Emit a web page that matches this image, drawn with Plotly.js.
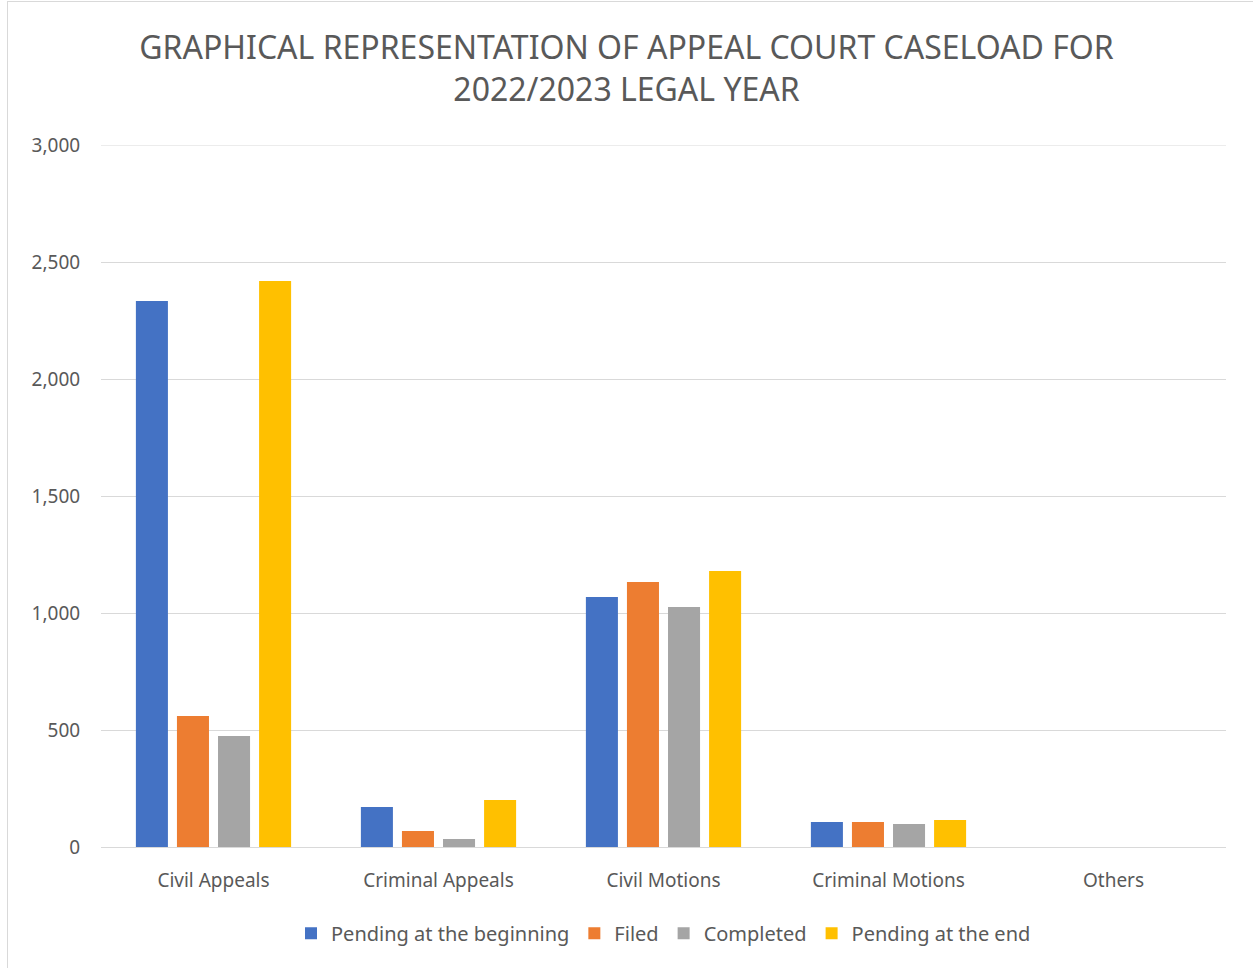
<!DOCTYPE html>
<html><head><meta charset="utf-8">
<script src="https://cdn.plot.ly/plotly-3.0.1.min.js"></script>
<style>
html,body{margin:0;padding:0;background:#fff;overflow:hidden;}
#frame{position:absolute;left:7px;top:1px;width:1260px;height:980px;border:1px solid #d9d9d9;box-sizing:border-box;}
#chart{position:absolute;left:0;top:0;width:1253px;height:968px;}
</style></head>
<body><div id="frame"></div><div id="chart"></div>
<script>
const categories = ["Civil Appeals","Criminal Appeals","Civil Motions","Criminal Motions","Others"];
const pendingBeginning = [2333, 171, 1068, 107, 0];
const filed = [560, 68, 1132, 107, 0];
const completed = [474, 34, 1026, 98, 0];
const pendingEnd = [2419, 201, 1179, 115, 0];
const seriesNames = ["Pending at the beginning","Filed","Completed","Pending at the end"];
const colors = ["#4472c4","#ed7d31","#a5a5a5","#ffc000"];
const series = [pendingBeginning, filed, completed, pendingEnd];
const yMax = 3000;

const traces = series.map((v,i)=>({
  type:'bar', x:categories, y:v, name:seriesNames[i],
  marker:{color:colors[i]}, hoverinfo:'x+y+name'
}));
const font = "Noto Sans, Open Sans, sans-serif";
Plotly.newPlot('chart', traces, {
  width:1253, height:968,
  paper_bgcolor:'rgba(0,0,0,0)', plot_bgcolor:'rgba(0,0,0,0)',
  margin:{l:101, r:27, t:145, b:121},
  barmode:'group', bargap:0.27, bargroupgap:0.22,
  title:{text:"GRAPHICAL REPRESENTATION OF APPEAL COURT CASELOAD FOR<br>2022/2023 LEGAL YEAR",
    font:{family:font, size:32, color:'#595959'}, x:0.5, xanchor:'center', y:0.939, yanchor:'top'},
  xaxis:{tickfont:{family:font, size:19, color:'#595959'}, showline:true, linecolor:'#d9d9d9', linewidth:1,
    ticks:'outside', ticklen:16, tickcolor:'rgba(0,0,0,0)', showgrid:false},
  yaxis:{range:[0,yMax], dtick:500, tickformat:',d', tickfont:{family:font, size:19, color:'#595959'},
    gridcolor:'#d9d9d9', gridwidth:1, zeroline:false, ticks:'outside', ticklen:16, tickcolor:'rgba(0,0,0,0)'},
  shapes:[{type:'line', xref:'paper', yref:'y', x0:0, x1:1, y0:yMax, y1:yMax, line:{color:'#d9d9d9', width:1}, layer:'below'}],
  legend:{orientation:'h', x:0.5, xanchor:'center', y:-0.095, yanchor:'top',
    font:{family:font, size:20, color:'#595959'}, traceorder:'normal', itemwidth:20},
  showlegend:true
}, {displayModeBar:false, staticPlot:true});
</script></body></html>
